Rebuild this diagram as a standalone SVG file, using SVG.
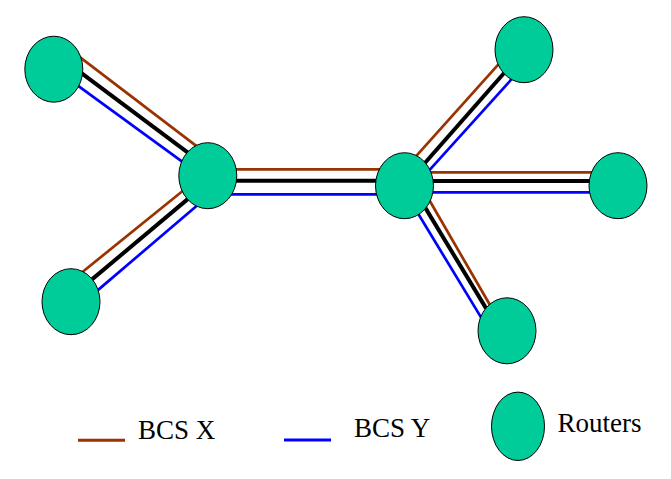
<svg xmlns="http://www.w3.org/2000/svg" width="671" height="479" viewBox="0 0 671 479">
<style>
.bx{stroke:#993300;stroke-width:2.7;fill:none}
.bk{stroke:#000;stroke-width:4;fill:none}
.by{stroke:#0000ff;stroke-width:2.7;fill:none}
.rt{fill:#00cc99;stroke:#000;stroke-width:1}
.lbl{font-family:"Liberation Serif","Times New Roman",serif;font-size:27px;fill:#000}
</style>
<rect width="671" height="479" fill="#fff"/>
<g id="connectors">
<line class="bx" x1="79.5" y1="56.9" x2="198.2" y2="147.4"/>
<line class="bk" x1="80.8" y1="72.6" x2="189.9" y2="154.1"/>
<line class="by" x1="76.1" y1="84.3" x2="183.2" y2="162.4"/>
<line class="bx" x1="80.9" y1="273.2" x2="184.8" y2="189.2"/>
<line class="bk" x1="90.2" y1="280.9" x2="189.8" y2="197.4"/>
<line class="by" x1="97" y1="290.9" x2="198" y2="204.7"/>
<line class="bx" x1="232" y1="169.3" x2="382" y2="169.3"/>
<line class="bk" x1="231" y1="180.7" x2="381" y2="180.7"/>
<line class="by" x1="228" y1="194.3" x2="382" y2="194.3"/>
<line class="bx" x1="415" y1="157.3" x2="498.4" y2="64.3"/>
<line class="bk" x1="424" y1="164" x2="505" y2="72"/>
<line class="by" x1="428.3" y1="171.3" x2="512" y2="78.7"/>
<line class="bx" x1="428" y1="172.3" x2="595" y2="172.3"/>
<line class="bk" x1="431" y1="181" x2="592" y2="181"/>
<line class="by" x1="430" y1="192.3" x2="594" y2="192.3"/>
<line class="bx" x1="429.7" y1="200.8" x2="491" y2="306.8"/>
<line class="bk" x1="424.6" y1="206.6" x2="486.1" y2="308.4"/>
<line class="by" x1="417.9" y1="213.3" x2="482.1" y2="319.1"/>
</g>
<g id="nodeA"><ellipse class="rt" cx="53.8" cy="69.2" rx="29" ry="33"/></g>
<g id="nodeB"><ellipse class="rt" cx="207.8" cy="175.7" rx="29" ry="33"/></g>
<g id="nodeC"><ellipse class="rt" cx="71" cy="301.7" rx="29" ry="33"/></g>
<g id="nodeD"><ellipse class="rt" cx="404.5" cy="185.7" rx="29" ry="33"/></g>
<g id="nodeE"><ellipse class="rt" cx="524" cy="49.7" rx="29" ry="33"/></g>
<g id="nodeF"><ellipse class="rt" cx="618" cy="185.7" rx="29" ry="33"/></g>
<g id="nodeG"><ellipse class="rt" cx="507" cy="330.8" rx="29" ry="33"/></g>
<g id="legend">
<line class="bx" x1="78" y1="440.3" x2="125" y2="440.3" style="stroke-width:3"/>
<text class="lbl" x="138" y="439">BCS X</text>
<line class="by" x1="284" y1="440" x2="331" y2="440" style="stroke-width:3"/>
<text class="lbl" x="354" y="436.5">BCS Y</text>
<ellipse class="rt" cx="518" cy="426.3" rx="26.5" ry="34.2"/>
<text class="lbl" x="557.5" y="431.7">Routers</text>
</g>
</svg>
